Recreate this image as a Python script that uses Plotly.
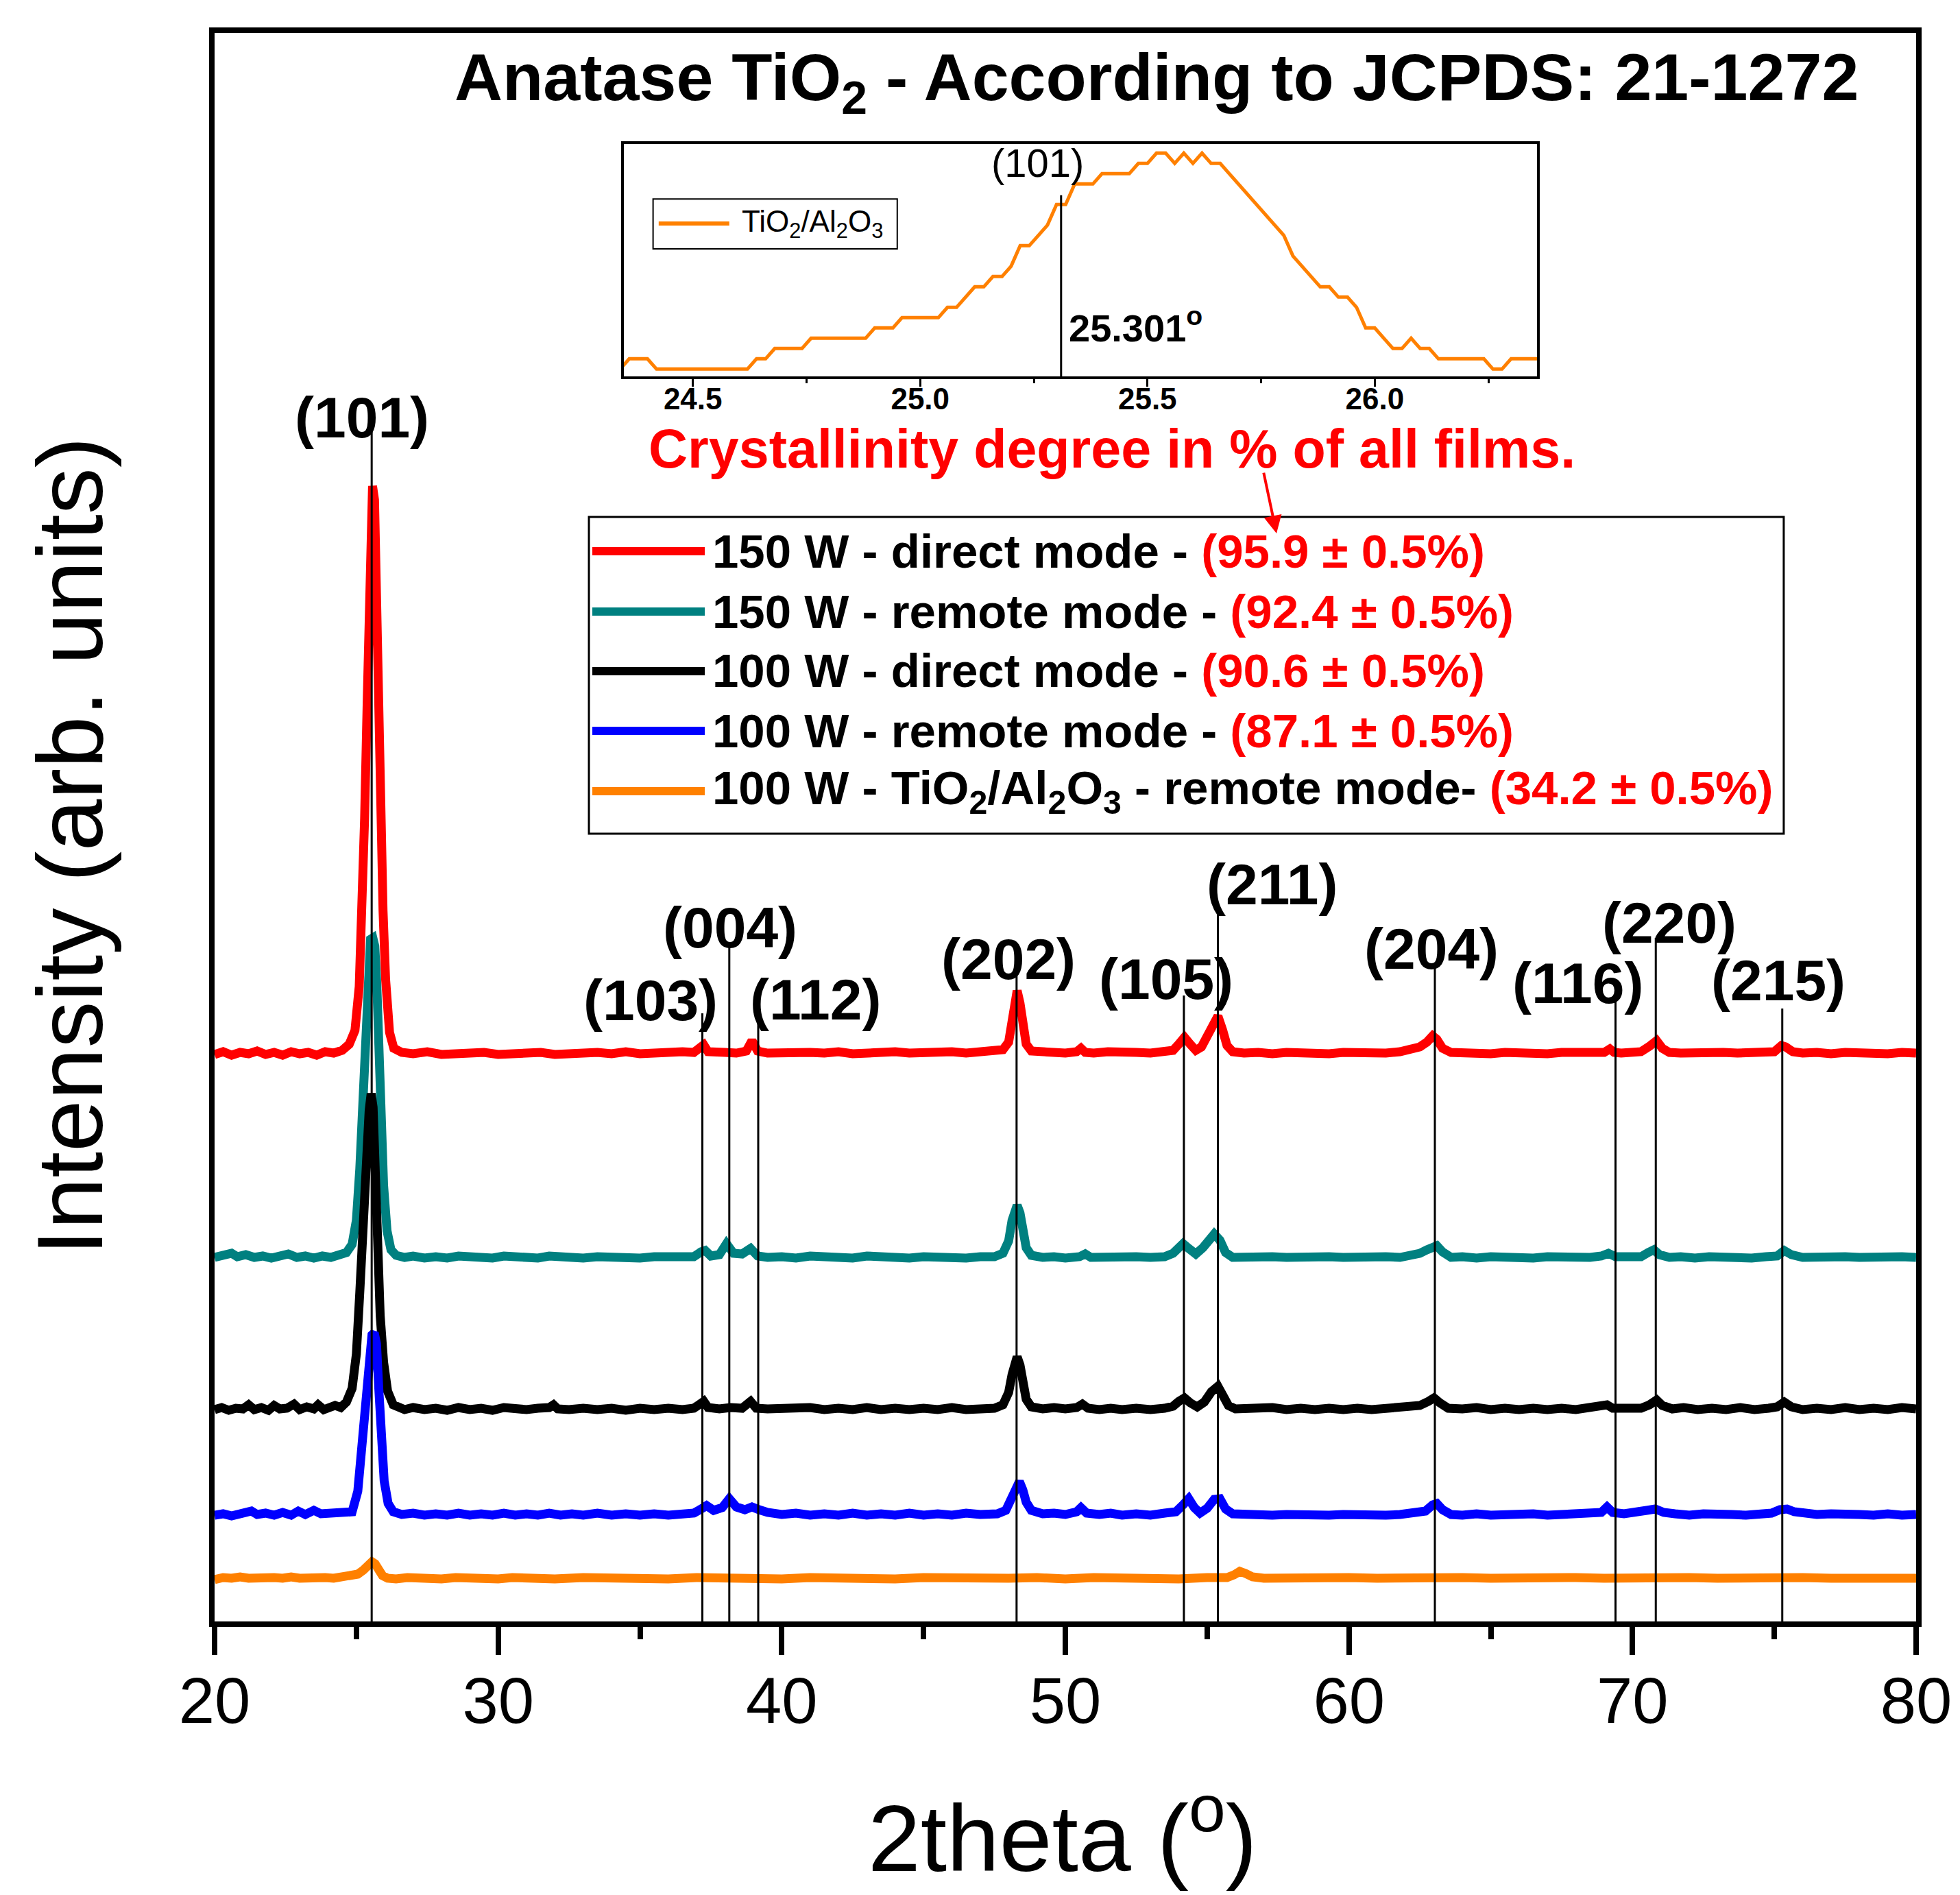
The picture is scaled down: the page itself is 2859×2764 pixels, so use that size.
import plotly.graph_objects as go

FONT = "Liberation Sans, Arial, sans-serif"

# ── XRD patterns (2theta, intensity offset in arb. units) ─────────────
RED_PTS = [
    (20.0, 827), (20.3, 831), (20.6, 826), (20.9, 830), (21.2, 828), (21.5, 832), (21.8, 827),
    (22.1, 830), (22.4, 826), (22.7, 831), (23.0, 828), (23.3, 830), (23.6, 826), (23.9, 831),
    (24.2, 829), (24.5, 833), (24.75, 842), (24.95, 862), (25.10, 926), (25.21, 1037),
    (25.29, 1171), (25.38, 1339), (25.46, 1540), (25.51, 1638), (25.57, 1656), (25.64, 1636),
    (25.70, 1500), (25.78, 1339), (25.86, 1171), (25.94, 1037), (26.03, 937), (26.17, 859),
    (26.32, 836), (26.6, 830), (27.0, 828), (27.5, 831), (28.0, 827), (28.5, 829), (29.0, 828),
    (29.5, 830), (30.0, 827), (30.5, 829), (31.0, 828), (31.5, 830), (32.0, 827), (32.5, 829),
    (33.0, 828), (33.5, 830), (34.0, 828), (34.5, 831), (35.0, 828), (35.5, 830), (36.0, 829),
    (36.5, 831), (36.9, 830), (37.1, 838), (37.25, 841), (37.4, 831), (37.7, 829), (38.0, 830),
    (38.4, 829), (38.75, 832), (38.95, 847), (39.15, 832), (39.5, 829), (40.0, 830), (40.5, 828),
    (41.0, 830), (41.5, 829), (42.0, 831), (42.5, 828), (43.0, 830), (43.5, 829), (44.0, 831),
    (44.5, 829), (45.0, 830), (45.5, 828), (46.0, 831), (46.5, 829), (47.0, 830), (47.5, 831),
    (47.8, 834), (48.0, 845), (48.12, 872), (48.22, 905), (48.3, 920), (48.4, 902), (48.5, 868),
    (48.62, 842), (48.8, 832), (49.2, 830), (49.6, 831), (50.0, 829), (50.4, 831), (50.55, 836),
    (50.7, 830), (51.0, 829), (51.5, 831), (52.0, 829), (52.5, 830), (53.0, 829), (53.5, 830),
    (53.8, 833), (54.0, 842), (54.2, 852), (54.4, 842), (54.6, 833), (54.8, 838), (55.0, 852),
    (55.2, 872), (55.38, 883), (55.55, 862), (55.7, 840), (55.9, 831), (56.3, 829), (56.8, 830),
    (57.3, 828), (57.8, 830), (58.3, 829), (58.8, 830), (59.3, 828), (59.8, 830), (60.3, 829),
    (60.8, 830), (61.3, 829), (61.8, 831), (62.2, 834), (62.5, 838), (62.75, 845), (62.95, 854),
    (63.1, 849), (63.3, 836), (63.6, 830), (64.0, 829), (64.5, 830), (65.0, 828), (65.5, 830),
    (66.0, 829), (66.5, 830), (67.0, 828), (67.5, 830), (68.0, 829), (68.5, 830), (69.0, 830),
    (69.2, 835), (69.35, 830), (69.6, 829), (70.0, 830), (70.3, 831), (70.6, 839), (70.85, 847),
    (71.05, 836), (71.3, 830), (71.7, 829), (72.2, 830), (72.7, 828), (73.2, 830), (73.7, 829),
    (74.2, 830), (74.6, 829), (75.0, 831), (75.25, 840), (75.4, 838), (75.65, 831), (76.0, 829),
    (76.5, 830), (77.0, 828), (77.5, 830), (78.0, 829), (78.5, 830), (79.0, 828), (79.5, 830),
    (80.0, 829),
]

TEAL_PTS = [
    (20.0, 531), (20.3, 533), (20.6, 537), (20.8, 532), (21.1, 535), (21.4, 531), (21.7, 533),
    (22.0, 530), (22.3, 533), (22.6, 536), (22.9, 531), (23.2, 533), (23.5, 530), (23.8, 533),
    (24.1, 531), (24.4, 534), (24.65, 538), (24.85, 550), (25.0, 585), (25.12, 660), (25.22, 760),
    (25.32, 880), (25.42, 970), (25.5, 995), (25.58, 997), (25.65, 985), (25.72, 930),
    (25.79, 830), (25.87, 720), (25.96, 636), (26.08, 570), (26.22, 542), (26.4, 534),
    (26.7, 531), (27.0, 533), (27.4, 530), (27.8, 532), (28.2, 530), (28.6, 533), (29.0, 531),
    (29.4, 532), (29.8, 530), (30.2, 533), (30.6, 531), (31.0, 532), (31.4, 530), (31.8, 533),
    (32.2, 531), (32.6, 532), (33.0, 530), (33.5, 532), (34.0, 531), (34.5, 533), (35.0, 530),
    (35.5, 532), (36.0, 531), (36.5, 532), (36.9, 532), (37.15, 539), (37.3, 541), (37.5, 533),
    (37.8, 535), (38.05, 551), (38.3, 537), (38.6, 536), (38.9, 544), (39.15, 533), (39.5, 531),
    (40.0, 532), (40.5, 530), (41.0, 533), (41.5, 531), (42.0, 532), (42.5, 530), (43.0, 533),
    (43.5, 531), (44.0, 532), (44.5, 530), (45.0, 532), (45.5, 531), (46.0, 533), (46.5, 530),
    (47.0, 532), (47.5, 532), (47.8, 537), (48.0, 555), (48.12, 585), (48.22, 604), (48.3, 607),
    (48.4, 596), (48.5, 568), (48.62, 545), (48.8, 534), (49.2, 531), (49.6, 532), (50.0, 530),
    (50.5, 532), (50.7, 536), (50.9, 531), (51.5, 532), (52.0, 530), (52.5, 532), (53.0, 531),
    (53.5, 532), (53.8, 537), (54.0, 546), (54.15, 551), (54.35, 544), (54.6, 536), (54.85, 545),
    (55.05, 558), (55.25, 565), (55.45, 556), (55.65, 538), (55.9, 531), (56.3, 532), (56.8, 530),
    (57.3, 532), (57.8, 531), (58.3, 532), (58.8, 530), (59.3, 532), (59.8, 531), (60.3, 532),
    (60.8, 530), (61.3, 532), (61.8, 531), (62.2, 533), (62.5, 537), (62.75, 542), (62.95, 547),
    (63.1, 548), (63.3, 539), (63.6, 531), (64.0, 532), (64.5, 530), (65.0, 532), (65.5, 531),
    (66.0, 532), (66.5, 530), (67.0, 532), (67.5, 531), (68.0, 532), (68.5, 531), (68.9, 533),
    (69.15, 537), (69.4, 532), (70.0, 531), (70.3, 532), (70.55, 538), (70.75, 542), (70.95, 535),
    (71.3, 531), (71.7, 532), (72.2, 530), (72.7, 532), (73.2, 531), (73.7, 532), (74.2, 530),
    (74.7, 532), (75.1, 533), (75.35, 541), (75.6, 535), (76.0, 531), (76.5, 532), (77.0, 530),
    (77.5, 532), (78.0, 531), (78.5, 532), (79.0, 530), (79.5, 532), (80.0, 531),
]

BLACK_PTS = [
    (20.0, 309), (20.25, 312), (20.5, 308), (20.75, 311), (21.0, 310), (21.2, 316), (21.4, 309),
    (21.65, 312), (21.9, 308), (22.1, 315), (22.3, 310), (22.55, 311), (22.8, 317), (23.0, 309),
    (23.25, 313), (23.5, 310), (23.65, 316), (23.85, 309), (24.05, 312), (24.25, 315),
    (24.45, 312), (24.65, 320), (24.85, 340), (25.0, 390), (25.12, 480), (25.24, 590),
    (25.35, 680), (25.45, 745), (25.52, 770), (25.59, 750), (25.66, 665), (25.74, 550),
    (25.84, 446), (25.96, 378), (26.1, 336), (26.3, 316), (26.5, 312), (26.7, 309), (27.0, 312),
    (27.4, 309), (27.8, 311), (28.2, 308), (28.6, 312), (29.0, 309), (29.4, 311), (29.8, 308),
    (30.2, 312), (30.6, 310), (31.0, 309), (31.4, 311), (31.8, 312), (31.95, 316), (32.1, 310),
    (32.5, 309), (33.0, 311), (33.5, 309), (34.0, 311), (34.5, 308), (35.0, 311), (35.5, 309),
    (36.0, 311), (36.5, 309), (36.9, 311), (37.15, 318), (37.25, 321), (37.4, 312), (37.8, 310),
    (38.2, 312), (38.6, 311), (38.9, 321), (39.1, 311), (39.5, 310), (40.0, 311), (40.5, 309),
    (41.0, 312), (41.5, 309), (42.0, 311), (42.5, 309), (43.0, 312), (43.5, 309), (44.0, 311),
    (44.5, 309), (45.0, 311), (45.5, 309), (46.0, 312), (46.5, 309), (47.0, 311), (47.5, 311),
    (47.8, 316), (48.0, 334), (48.12, 360), (48.22, 382), (48.3, 386), (48.4, 374), (48.5, 348),
    (48.62, 324), (48.8, 313), (49.2, 310), (49.6, 312), (50.0, 310), (50.4, 312), (50.6, 317),
    (50.8, 311), (51.2, 309), (51.6, 311), (52.0, 309), (52.5, 311), (53.0, 309), (53.5, 311),
    (53.8, 314), (54.0, 321), (54.2, 326), (54.4, 319), (54.65, 313), (54.9, 320), (55.15, 335),
    (55.38, 343), (55.55, 332), (55.75, 315), (56.0, 310), (56.4, 311), (56.8, 309), (57.3, 312),
    (57.8, 309), (58.3, 311), (58.8, 309), (59.3, 311), (59.8, 309), (60.3, 311), (60.8, 309),
    (61.3, 311), (61.8, 310), (62.2, 312), (62.5, 315), (62.8, 321), (63.0, 326), (63.2, 319),
    (63.5, 311), (64.0, 310), (64.5, 312), (65.0, 309), (65.5, 311), (66.0, 309), (66.5, 311),
    (67.0, 309), (67.5, 311), (68.0, 309), (68.5, 311), (68.9, 312), (69.1, 316), (69.3, 311),
    (69.8, 310), (70.3, 311), (70.6, 316), (70.85, 323), (71.05, 315), (71.4, 310), (71.8, 312),
    (72.3, 309), (72.8, 311), (73.3, 309), (73.8, 312), (74.3, 309), (74.8, 311), (75.1, 313),
    (75.35, 320), (75.6, 313), (76.0, 309), (76.5, 311), (77.0, 309), (77.5, 312), (78.0, 309),
    (78.5, 311), (79.0, 309), (79.5, 312), (80.0, 310),
]

BLUE_PTS = [
    (20.0, 155), (20.3, 157), (20.6, 154), (20.9, 157), (21.1, 156), (21.3, 161), (21.5, 156),
    (21.8, 158), (22.1, 155), (22.4, 159), (22.7, 155), (22.95, 161), (23.2, 156), (23.5, 162),
    (23.75, 157), (24.0, 158), (24.3, 156), (24.6, 158), (24.85, 160), (25.05, 190), (25.2, 260),
    (25.33, 340), (25.45, 395), (25.55, 418), (25.63, 421), (25.71, 405), (25.79, 340),
    (25.88, 260), (25.98, 205), (26.12, 172), (26.3, 160), (26.6, 156), (27.0, 158), (27.4, 155),
    (27.8, 157), (28.2, 155), (28.6, 158), (29.0, 155), (29.4, 157), (29.8, 155), (30.2, 158),
    (30.6, 155), (31.0, 157), (31.4, 155), (31.8, 158), (32.2, 155), (32.6, 157), (33.0, 155),
    (33.5, 158), (34.0, 155), (34.5, 157), (35.0, 155), (35.5, 157), (36.0, 155), (36.5, 157),
    (36.9, 158), (37.2, 165), (37.35, 169), (37.6, 162), (37.9, 166), (38.15, 179), (38.4, 167),
    (38.7, 163), (38.95, 167), (39.2, 163), (39.5, 159), (40.0, 156), (40.5, 158), (41.0, 155),
    (41.5, 157), (42.0, 155), (42.5, 158), (43.0, 155), (43.5, 157), (44.0, 155), (44.5, 158),
    (45.0, 155), (45.5, 157), (46.0, 155), (46.5, 158), (47.0, 156), (47.6, 157), (47.9, 162),
    (48.1, 180), (48.25, 198), (48.38, 204), (48.5, 192), (48.62, 174), (48.8, 162), (49.2, 157),
    (49.6, 158), (50.0, 156), (50.4, 160), (50.55, 166), (50.75, 158), (51.2, 156), (51.6, 158),
    (52.0, 155), (52.5, 157), (53.0, 155), (53.5, 158), (53.9, 160), (54.15, 170), (54.35, 179),
    (54.55, 166), (54.75, 158), (55.0, 165), (55.25, 178), (55.45, 179), (55.65, 164),
    (55.9, 157), (56.3, 156), (56.8, 157), (57.3, 155), (57.8, 156), (58.3, 155), (58.8, 157),
    (59.3, 155), (59.8, 156), (60.3, 155), (60.8, 157), (61.3, 155), (61.8, 156), (62.3, 157),
    (62.7, 161), (62.95, 170), (63.1, 172), (63.3, 163), (63.6, 156), (64.0, 155), (64.5, 157),
    (65.0, 155), (65.5, 156), (66.0, 155), (66.5, 157), (67.0, 155), (67.5, 156), (68.0, 155),
    (68.5, 157), (68.9, 159), (69.1, 167), (69.3, 159), (69.7, 157), (70.1, 158), (70.5, 162),
    (70.8, 164), (71.1, 159), (71.5, 157), (72.0, 155), (72.5, 157), (73.0, 155), (73.5, 156),
    (74.0, 155), (74.5, 157), (74.9, 158), (75.2, 163), (75.45, 164), (75.7, 160), (76.0, 158),
    (76.5, 156), (77.0, 157), (77.5, 155), (78.0, 156), (78.5, 155), (79.0, 157), (79.5, 155),
    (80.0, 156),
]

ORANGE_PTS = [
    (20.0, 61), (20.3, 64), (20.6, 63), (20.9, 65), (21.2, 63), (21.5, 64), (21.8, 62),
    (22.1, 64), (22.4, 63), (22.7, 65), (23.0, 63), (23.3, 64), (23.6, 62), (23.9, 64),
    (24.2, 63), (24.5, 64), (24.8, 65), (25.05, 69), (25.25, 75), (25.42, 83), (25.55, 87),
    (25.66, 84), (25.78, 76), (25.92, 67), (26.1, 63), (26.4, 62), (26.8, 64), (27.2, 63),
    (27.6, 64), (28.0, 62), (28.5, 64), (29.0, 63), (29.5, 64), (30.0, 62), (30.5, 64),
    (31.0, 63), (31.5, 64), (32.0, 62), (33.0, 64), (34.0, 63), (35.0, 64), (36.0, 62),
    (37.0, 64), (38.0, 63), (39.0, 64), (40.0, 62), (41.0, 64), (42.0, 63), (43.0, 64),
    (44.0, 62), (45.0, 64), (46.0, 63), (47.0, 64), (48.0, 63), (49.0, 64), (50.0, 62),
    (51.0, 64), (52.0, 63), (53.0, 64), (54.0, 62), (55.0, 64), (55.7, 64), (55.95, 68),
    (56.15, 73), (56.35, 70), (56.6, 65), (57.0, 63), (58.0, 64), (59.0, 62), (60.0, 64),
    (61.0, 63), (62.0, 64), (63.0, 62), (64.0, 64), (65.0, 63), (66.0, 64), (67.0, 62),
    (68.0, 64), (69.0, 63), (70.0, 64), (71.0, 62), (72.0, 64), (73.0, 63), (74.0, 64),
    (75.0, 62), (76.0, 64), (77.0, 63), (78.0, 64), (79.0, 62), (80.0, 63),
]

# ── Legend / sample info ──────────────────────────────────────────────
SAMPLE_NAMES = [
    "150 W - direct mode - ",
    "150 W - remote mode - ",
    "100 W - direct mode - ",
    "100 W - remote mode - ",
    "100 W - TiO<sub>2</sub>/Al<sub>2</sub>O<sub>3</sub> - remote mode- ",
]
CRYSTALLINITY = ["95.9", "92.4", "90.6", "87.1", "34.2"]
SAMPLE_COLORS = ["#ff0000", "#008080", "#000000", "#0000ff", "#ff8000"]
SAMPLE_PTS = [RED_PTS, TEAL_PTS, BLACK_PTS, BLUE_PTS, ORANGE_PTS]

# ── JCPDS 21-1272 reflections ────────────────────────────────────────
REF_POS = [25.54, 37.2, 38.15, 39.17, 48.28, 54.18, 55.38, 63.03, 69.4, 70.82, 75.28]
REF_TOP = [1737, 887, 990, 872, 942, 913, 1041, 957, 909, 997, 894]
HKL_LABELS = ["(101)", "(103)", "(004)", "(112)", "(202)", "(105)", "(211)",
              "(204)", "(116)", "(220)", "(215)"]
HKL_X = [25.19, 35.37, 38.18, 41.19, 48.0, 53.56, 57.30, 62.9, 68.07, 71.29, 75.15]
HKL_Y = [1756, 906, 1012, 907, 966, 937, 1075, 981, 931, 1019, 935]

# ── Inset: TiO2/Al2O3 (101) reflection ───────────────────────────────
INSET_X = [24.34, 24.36, 24.40, 24.42, 24.62, 24.64, 24.66, 24.68, 24.74, 24.76, 24.88, 24.90,
           24.94, 24.96, 25.04, 25.06, 25.08, 25.10, 25.12, 25.14, 25.16, 25.18, 25.20, 25.22,
           25.24, 25.26, 25.28, 25.30, 25.32, 25.34, 25.38, 25.40, 25.46, 25.48, 25.50, 25.52,
           25.54, 25.56, 25.58, 25.60, 25.62, 25.64, 25.66, 25.68, 25.70, 25.72, 25.74, 25.76,
           25.78, 25.80, 25.82, 25.84, 25.86, 25.88, 25.90, 25.92, 25.94, 25.96, 25.98, 26.00,
           26.02, 26.04, 26.06, 26.08, 26.10, 26.12, 26.14, 26.24, 26.26, 26.28, 26.30, 26.36]
INSET_Y = [10, 11, 11, 10, 10, 11, 11, 12, 12, 13, 13, 14,
           14, 15, 15, 16, 16, 17, 18, 18, 19, 19, 20, 22,
           22, 23, 24, 26, 26, 28, 28, 29, 29, 30, 30, 31,
           31, 30, 31, 30, 31, 30, 30, 29, 28, 27, 26, 25,
           24, 23, 21, 20, 19, 18, 18, 17, 17, 16, 14, 14,
           13, 12, 12, 13, 12, 12, 11, 11, 10, 10, 11, 11]
INSET_XRANGE = [24.348, 26.357]
INSET_YRANGE = [9.29, 31.89]
INSET_PEAK = 25.31
INSET_PEAK_TOP = 26.9

fig = go.Figure()

# ── Main patterns ────────────────────────────────────────────────────
for pts, color in zip(SAMPLE_PTS, SAMPLE_COLORS):
    fig.add_trace(go.Scatter(
        x=[p[0] for p in pts],
        y=[p[1] for p in pts],
        mode="lines",
        line=dict(color=color, width=13),
        showlegend=False,
        hoverinfo="skip",
    ))

# reference drop lines
rx, ry = [], []
for pos, top in zip(REF_POS, REF_TOP):
    rx += [pos, pos, None]
    ry += [0, top, None]
fig.add_trace(go.Scatter(x=rx, y=ry, mode="lines", line=dict(color="black", width=3),
                         showlegend=False, hoverinfo="skip"))

for lab, lx, ly in zip(HKL_LABELS, HKL_X, HKL_Y):
    fig.add_annotation(x=lx, y=ly, xref="x", yref="y", text=f"<b>{lab}</b>", showarrow=False,
                       font=dict(family=FONT, size=84, color="black"),
                       xanchor="center", yanchor="middle")

# ── Inset ────────────────────────────────────────────────────────────
fig.add_trace(go.Scatter(x=INSET_X, y=INSET_Y, xaxis="x2", yaxis="y2", mode="lines",
                         line=dict(color="#ff8000", width=5), showlegend=False, hoverinfo="skip"))
fig.add_trace(go.Scatter(x=[INSET_PEAK, INSET_PEAK], y=[INSET_YRANGE[0], INSET_PEAK_TOP],
                         xaxis="x2", yaxis="y2", mode="lines",
                         line=dict(color="black", width=3), showlegend=False, hoverinfo="skip"))


def note(x, y, text, size, color="black", xanchor="center", yanchor="middle", **kw):
    fig.add_annotation(x=x, y=y, xref="paper", yref="paper", showarrow=False, text=text,
                       xanchor=xanchor, yanchor=yanchor,
                       font=dict(family=FONT, size=size, color=color), **kw)


# ── Manual legend ────────────────────────────────────────────────────
legend_rows = [0.6737, 0.6357, 0.5982, 0.5606, 0.5227]
shapes = [dict(type="rect", xref="paper", yref="paper", x0=0.2200, x1=0.9222, y0=0.4959, y1=0.6953,
               line=dict(color="black", width=3), fillcolor="rgba(0,0,0,0)")]
for yy, name, cr, color in zip(legend_rows, SAMPLE_NAMES, CRYSTALLINITY, SAMPLE_COLORS):
    shapes.append(dict(type="line", xref="paper", yref="paper", x0=0.2220, x1=0.2881, y0=yy, y1=yy,
                       line=dict(color=color, width=12)))
    note(0.2915, yy, f"<b>{name}<span style='color:#ff0000'>({cr} ± 0.5%)</span></b>", 69,
         xanchor="left")

# inset legend
shapes.append(dict(type="rect", xref="paper", yref="paper", x0=0.2577, x1=0.4012, y0=0.8640, y1=0.8955,
                   line=dict(color="black", width=2), fillcolor="rgba(0,0,0,0)", layer="above"))
shapes.append(dict(type="line", xref="paper", yref="paper", x0=0.2610, x1=0.3025, y0=0.8800, y1=0.8800,
                   line=dict(color="#ff8000", width=6)))
note(0.3090, 0.8800, "TiO<sub>2</sub>/Al<sub>2</sub>O<sub>3</sub>", 44, xanchor="left")

# inset texts
note(0.4835, 0.9180, "(101)", 58)
note(0.5013, 0.8160, "<b>25.301<sup>o</sup></b>", 56, xanchor="left")

# title and notes
note(0.5535, 0.9694, "<b>Anatase TiO<sub>2</sub> - According to JCPDS: 21-1272</b>", 97)
note(0.5275, 0.7384, "<b>Crystallinity degree in % of all films.</b>", 79, color="#ff0000")
fig.add_annotation(x=0.6241, y=0.6849, xref="paper", yref="paper", text="",
                   showarrow=True, ax=-19, ay=-90, arrowcolor="#ff0000",
                   arrowwidth=4, arrowhead=2, arrowsize=1.3)

# axis titles
note(-0.0850, 0.4881, "Intensity (arb. units)", 136, textangle=-90)
note(0.4985, -0.1320, "2theta (<sup>o</sup>)", 138)

main_x = dict(
    range=[20, 80], showline=True, linewidth=8, linecolor="black", mirror=True,
    ticks="outside", ticklen=41, tickwidth=8, tickcolor="black",
    tick0=20, dtick=10, showgrid=False, zeroline=False,
    tickfont=dict(family=FONT, size=94, color="black"),
    minor=dict(dtick=5, ticks="outside", ticklen=18, tickwidth=8, tickcolor="black"),
)
inset_x = dict(
    domain=[0.2405, 0.7772], anchor="y2", range=INSET_XRANGE,
    showline=True, linewidth=4, linecolor="black", mirror=True,
    ticks="outside", ticklen=11, tickwidth=3, tickcolor="black",
    tick0=24.5, dtick=0.5, tickformat=".1f", showgrid=False, zeroline=False,
    tickfont=dict(family=FONT, size=44, color="black", weight="bold"),
    minor=dict(dtick=0.25, ticks="outside", ticklen=6, tickwidth=3, tickcolor="black"),
)

fig.update_layout(
    width=2859,
    height=2764,
    margin=dict(l=305, r=72, t=40, b=407),
    paper_bgcolor="white",
    plot_bgcolor="white",
    showlegend=False,
    shapes=shapes,
    font=dict(family=FONT, color="black"),
    xaxis=main_x,
    yaxis=dict(
        range=[0, 2317], showline=True, linewidth=8, linecolor="black", mirror=True,
        ticks="", showticklabels=False, showgrid=False, zeroline=False,
    ),
    xaxis2=inset_x,
    yaxis2=dict(
        domain=[0.7838, 0.9301], anchor="x2", range=INSET_YRANGE,
        showline=True, linewidth=4, linecolor="black", mirror=True,
        ticks="", showticklabels=False, showgrid=False, zeroline=False,
    ),
)

# pull tick labels a little closer to the axes
try:
    fig.layout.xaxis.ticklabelstandoff = -14
    fig.layout.xaxis2.ticklabelstandoff = -20
except ValueError:
    pass

fig.write_html("out.html")
